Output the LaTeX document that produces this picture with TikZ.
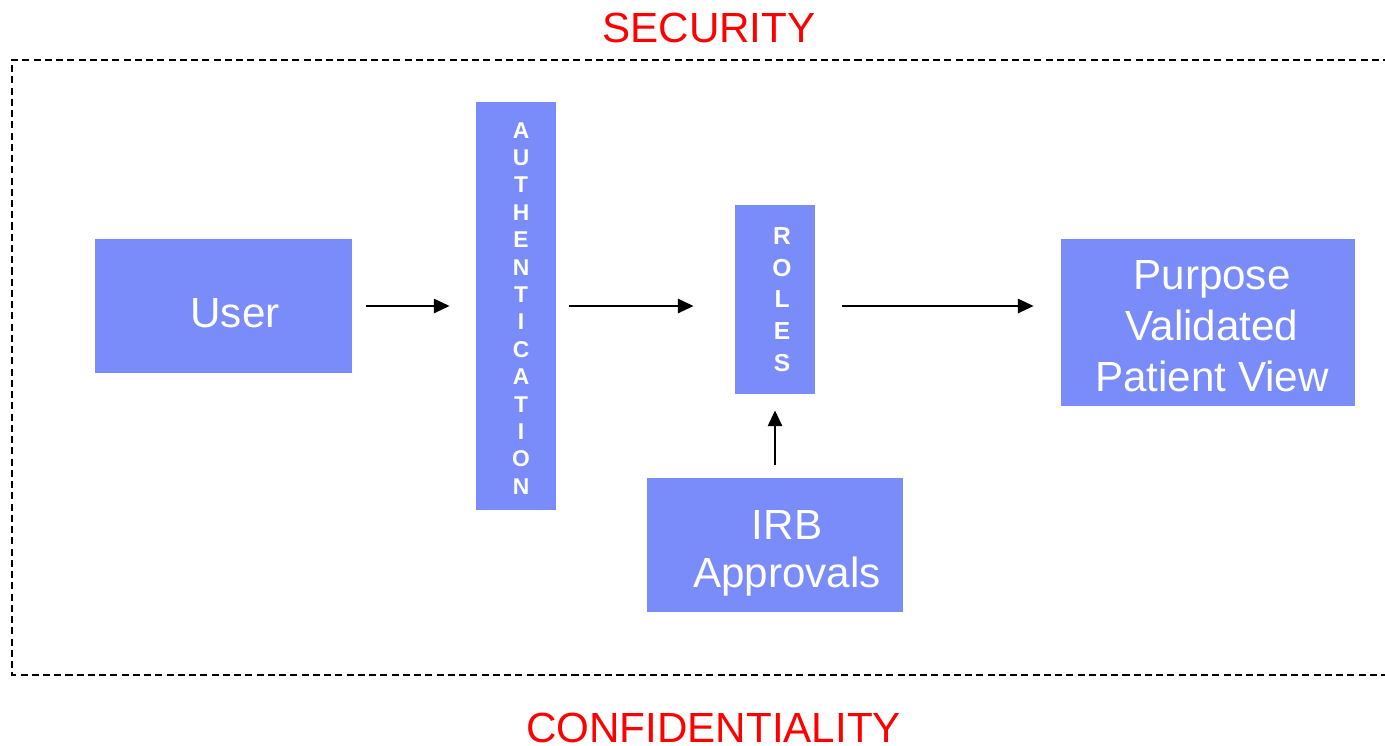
\documentclass[tikz,border=0pt]{standalone}
\usepackage{fontspec}
\setmainfont{Liberation Sans}
\usetikzlibrary{arrows.meta}
\definecolor{boxblue}{RGB}{122,139,250}
\definecolor{alertred}{RGB}{255,0,0}
\tikzset{
  block/.style={fill=boxblue, draw=none, inner sep=0pt},
  lbl/.style={text=white, inner sep=0pt, align=center},
  vletters/.style={text=white, inner sep=0pt, align=center},
  heading/.style={text=alertred, inner sep=0pt, font=\fontsize{24}{29}\selectfont},
  flow/.style={line width=1.5pt, -{Triangle[length=9pt,width=8pt]}},
  frame/.style={line width=1.1pt, dash pattern=on 4pt off 2.4pt}
}
\begin{document}
\begin{tikzpicture}[x=0.02cm,y=-0.02cm]
  \useasboundingbox (0,0) rectangle (1385,745);

  % boundary of the secured area (open on the right)
  \draw[frame] (1390,60) -- (12,60) -- (12,675) -- (1390,675);

  \node[heading, anchor=north] (security) at (709,13) {SECURITY};
  \node[heading, anchor=north] (confidentiality) at (713.5,713) {CONFIDENTIALITY};

  % blocks
  \node[block, minimum width=5.14cm, minimum height=2.68cm] (user) at (223.5,306) {};
  \node[block, minimum width=1.6cm, minimum height=8.16cm] (auth) at (516,306) {};
  \node[block, minimum width=1.6cm, minimum height=3.78cm] (roles) at (775,299.5) {};
  \node[block, minimum width=5.88cm, minimum height=3.34cm] (purpose) at (1208,322.5) {};
  \node[block, minimum width=5.12cm, minimum height=2.68cm] (irb) at (775,545) {};

  % block texts
  \node[lbl, anchor=base, font=\fontsize{24}{29}\selectfont] (usertext) at (235,327) {User};
  \node[vletters, anchor=north, font=\fontsize{13}{15.6}\selectfont\bfseries] (authtext) at (521,122)
    {A\\U\\T\\H\\E\\N\\T\\I\\C\\A\\T\\I\\O\\N};
  \node[vletters, anchor=north, font=\fontsize{14}{18.1}\selectfont\bfseries] (rolestext) at (782,227)
    {R\\O\\L\\E\\S};
  \node[lbl, anchor=north, font=\fontsize{24}{29}\selectfont] (purposetext) at (1212,260)
    {Purpose\\Validated\\Patient View};
  \node[lbl, anchor=north, font=\fontsize{24}{27.2}\selectfont] (irbtext) at (787,510)
    {IRB\\Approvals};

  % connectors
  \draw[flow, shorten <=0.28cm, shorten >=0.52cm] (user.east) -- (auth.west |- user.east);
  \draw[flow, shorten <=0.26cm, shorten >=0.82cm] (auth.east) -- (roles.west |- auth.east);
  \draw[flow, shorten <=0.54cm, shorten >=0.54cm] (roles.east |- auth.east) -- (purpose.west |- auth.east);
  \draw[flow, shorten <=0.26cm, shorten >=0.32cm] (irb.north) -- (roles.south);
\end{tikzpicture}
\end{document}
